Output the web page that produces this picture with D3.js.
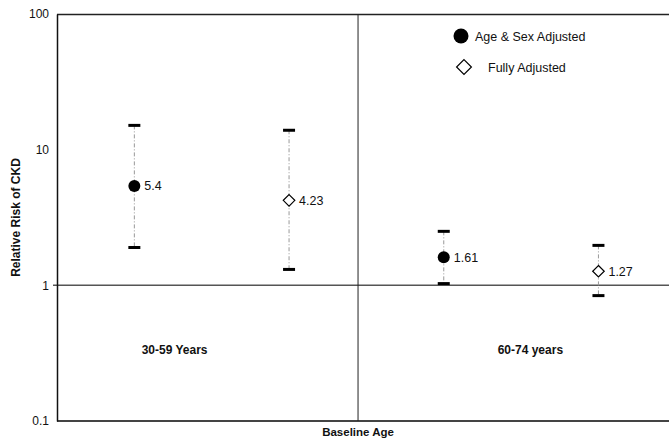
<!DOCTYPE html>
<html>
<head>
<meta charset="utf-8">
<script src="https://cdn.jsdelivr.net/npm/d3@7"></script>
<style>
  body { margin: 0; background: #fff; }
  text { font-family: "Liberation Sans", Arial, sans-serif; }
</style>
</head>
<body>
<div id="chart"></div>
<script>
// data
const groups = ["30-59 Years", "60-74 years"];
const seriesNames = ["Age & Sex Adjusted", "Fully Adjusted"];
const estimates = [5.4, 4.23, 1.61, 1.27];
const lowerCI = [1.9, 1.31, 1.03, 0.84];
const upperCI = [15.1, 13.9, 2.5, 1.97];
const estLabels = ["5.4", "4.23", "1.61", "1.27"];
const yTicks = [0.1, 1, 10, 100];

let svgDimensions = [669, 441];
let svg = d3.select('#chart')
  .append('svg')
    .attr('width', svgDimensions[0])
    .attr('height', svgDimensions[1]);

const plotLeft = 57, plotTop = 14, plotBottom = 421, plotRight = 669;

let y = d3.scaleLog()
  .domain([0.1, 100])
  .range([plotBottom, plotTop]);

// position of the points along x, in "slot" units (4 slots)
let x = d3.scaleLinear()
  .domain([0, 1])
  .range([plotLeft, plotLeft + 154.7]);

let points = estimates.map((v, i) => ({
  value: v, lo: lowerCI[i], hi: upperCI[i], label: estLabels[i],
  series: i % 2, pos: i + 0.5
}));

// frame: top and bottom
svg.append('line')
  .attr('x1', plotLeft).attr('x2', plotRight)
  .attr('y1', plotTop + 0.5).attr('y2', plotTop + 0.5)
  .attr('stroke', '#222').attr('stroke-width', 1.5);
svg.append('line')
  .attr('x1', plotLeft).attr('x2', plotRight)
  .attr('y1', plotBottom).attr('y2', plotBottom)
  .attr('stroke', '#444').attr('stroke-width', 2);

// reference line at 1
svg.append('line')
  .attr('x1', plotLeft - 4).attr('x2', plotRight)
  .attr('y1', y(1)).attr('y2', y(1))
  .attr('stroke', '#555').attr('stroke-width', 1.5);

// divider between age groups
svg.append('line')
  .attr('x1', x(1.946)).attr('x2', x(1.946))
  .attr('y1', plotTop).attr('y2', plotBottom)
  .attr('stroke', '#222').attr('stroke-width', 1);

// y axis
let yAxis = d3.axisLeft(y)
  .tickValues(yTicks)
  .tickFormat(d3.format('~g'))
  .tickSize(0)
  .tickPadding(8);
let gy = svg.append('g')
  .attr('transform', `translate(${plotLeft},0)`)
  .call(yAxis);
gy.select('.domain').attr('stroke', '#111').attr('stroke-width', 1.5);
gy.selectAll('text')
  .attr('font-size', 12)
  .attr('fill', '#111')
  .style('font-family', '"Liberation Sans", Arial, sans-serif');

// error bars
let bars = svg.selectAll('.err')
  .data(points)
  .enter()
  .append('g')
  .attr('class', 'err');
bars.append('line')
  .attr('x1', (d) => x(d.pos)).attr('x2', (d) => x(d.pos))
  .attr('y1', (d) => y(d.hi)).attr('y2', (d) => y(d.lo))
  .attr('stroke', '#999')
  .attr('stroke-width', 1)
  .attr('stroke-dasharray', '4,2,1,2');
bars.selectAll('.cap')
  .data((d) => [d.hi, d.lo].map(v => ({ pos: d.pos, v: v })))
  .enter()
  .append('line')
  .attr('x1', (d) => x(d.pos) - 6).attr('x2', (d) => x(d.pos) + 6)
  .attr('y1', (d) => y(d.v)).attr('y2', (d) => y(d.v))
  .attr('stroke', '#000')
  .attr('stroke-width', 3);

// markers
let diamond = d3.symbol().type(d3.symbolDiamond2).size(85);
bars.each(function(d) {
  let g = d3.select(this);
  if (d.series === 0) {
    g.append('circle')
      .attr('cx', x(d.pos)).attr('cy', y(d.value))
      .attr('r', 6).attr('fill', '#000');
  } else {
    g.append('path')
      .attr('d', diamond)
      .attr('transform', `translate(${x(d.pos)},${y(d.value)})`)
      .attr('fill', '#fff').attr('stroke', '#000').attr('stroke-width', 1.2);
  }
  g.append('text')
    .attr('x', x(d.pos) + 10)
    .attr('y', y(d.value) + 4.5)
    .attr('font-size', 12.5)
    .attr('fill', '#111')
    .text(d.label);
});

// group labels
svg.selectAll('.grp')
  .data(groups)
  .enter()
  .append('text')
  .attr('class', 'grp')
  .attr('x', (d, i) => x([0.76, 3.06][i]))
  .attr('y', y(0.31))
  .attr('text-anchor', 'middle')
  .attr('font-size', 12)
  .attr('font-weight', 'bold')
  .attr('fill', '#111')
  .text((d) => d);

// legend
let legend = svg.append('g').attr('transform', 'translate(461,36)');
legend.append('circle').attr('cx', 0).attr('cy', 0).attr('r', 7.5).attr('fill', '#000');
legend.append('text').attr('x', 14).attr('y', 4.5)
  .attr('font-size', 12.5).attr('fill', '#111').text(seriesNames[0]);
legend.append('path')
  .attr('d', d3.symbol().type(d3.symbolDiamond2).size(140))
  .attr('transform', 'translate(3,31)')
  .attr('fill', '#fff').attr('stroke', '#000').attr('stroke-width', 1.2);
legend.append('text').attr('x', 27).attr('y', 35.5)
  .attr('font-size', 12.5).attr('fill', '#111').text(seriesNames[1]);

// axis titles
svg.append('text')
  .attr('x', x(1.946)).attr('y', 436)
  .attr('text-anchor', 'middle')
  .attr('font-size', 11.5).attr('font-weight', 'bold').attr('fill', '#111')
  .text('Baseline Age');
svg.append('text')
  .attr('transform', `translate(20,${(plotTop + plotBottom) / 2}) rotate(-90)`)
  .attr('text-anchor', 'middle')
  .attr('font-size', 12).attr('font-weight', 'bold').attr('fill', '#111')
  .text('Relative Risk of CKD');
</script>
</body>
</html>
